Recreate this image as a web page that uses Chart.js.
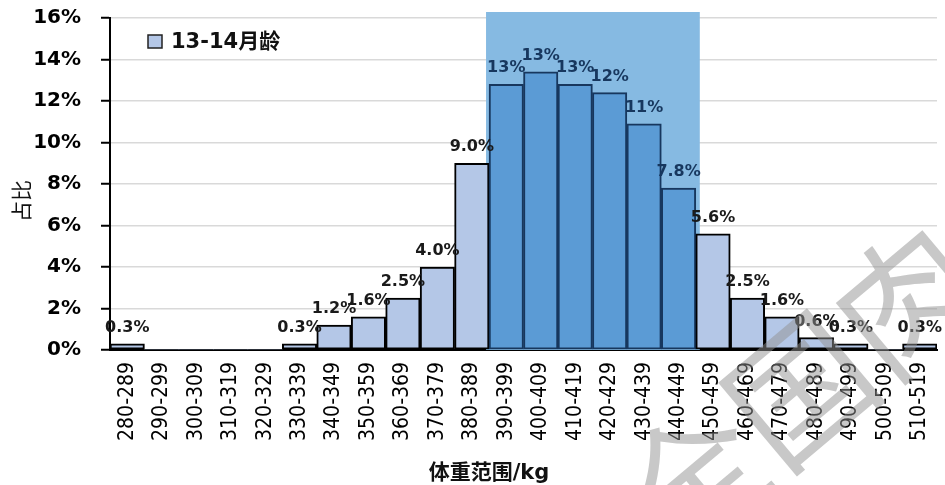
<!DOCTYPE html>
<html>
<head>
<meta charset="utf-8">
<script src="https://cdn.jsdelivr.net/npm/chart.js@4"></script>
<style>
  html, body { margin: 0; padding: 0; background: #fff; }
  #wrap { width: 945px; height: 485px; }
</style>
</head>
<body>
<div id="wrap"><canvas id="c" width="945" height="485"></canvas></div>
<script>
// Weight classes (kg) and share of animals in each class (%)
const categories = ['280-289','290-299','300-309','310-319','320-329','330-339','340-349','350-359',
  '360-369','370-379','380-389','390-399','400-409','410-419','420-429','430-439','440-449',
  '450-459','460-469','470-479','480-489','490-499','500-509','510-519'];
const shares = [0.3, 0, 0, 0, 0, 0.3, 1.2, 1.6, 2.5, 4.0, 9.0, 12.8, 13.4, 12.8, 12.4, 10.9, 7.8,
  5.6, 2.5, 1.6, 0.6, 0.3, 0, 0.3];
const seriesName = '13-14月龄';
const yTicks = [0, 2, 4, 6, 8, 10, 12, 14, 16];
// Main weight band, shaded behind the bars
const bandStart = '390-399';
const bandEnd = '440-449';
const xTitle = '体重范围/kg';
const yTitle = '占比';
const watermark = '全国肉牛';

const LIGHT = '#b4c7e7', DARK = '#5b9bd5', NAVY = '#17375e', SHADE = '#86bae2';
const bandLo = categories.indexOf(bandStart), bandHi = categories.indexOf(bandEnd);
const inBand = i => i >= bandLo && i <= bandHi;
const fmt = v => (v >= 10 ? v.toFixed(0) : v.toFixed(1)) + '%';
const LATIN = '"DejaVu Sans", "Noto Sans CJK SC", sans-serif';

const extras = {
  id: 'extras',
  beforeDatasetsDraw(chart) {
    const { ctx, scales: { x, y } } = chart;
    const half = (x.getPixelForValue(1) - x.getPixelForValue(0)) / 2;
    const l = x.getPixelForValue(bandLo) - half - 3;
    const r = x.getPixelForValue(bandHi) + half + 4;
    const t = y.getPixelForValue(yTicks[yTicks.length - 1]) - 6;
    ctx.save();
    ctx.fillStyle = SHADE;
    ctx.fillRect(l, t, r - l, y.bottom - t);
    ctx.restore();
  },
  afterDatasetsDraw(chart) {
    const { ctx } = chart;
    const meta = chart.getDatasetMeta(0);
    ctx.save();
    ctx.font = 'bold 16px ' + LATIN;
    ctx.textAlign = 'center';
    ctx.textBaseline = 'alphabetic';
    meta.data.forEach((bar, i) => {
      const v = shares[i];
      if (!v) return;
      ctx.fillStyle = inBand(i) ? NAVY : '#1a1a1a';
      ctx.fillText(fmt(v), bar.x, bar.y - 12);
    });
    ctx.restore();
  },
  afterDraw(chart) {
    const { ctx } = chart;
    ctx.save();
    // legend
    ctx.fillStyle = LIGHT;
    ctx.fillRect(148, 35, 14, 13);
    ctx.strokeStyle = '#222';
    ctx.lineWidth = 1.5;
    ctx.strokeRect(148, 35, 14, 13);
    ctx.fillStyle = '#111';
    ctx.font = 'bold 21px ' + LATIN;
    ctx.textAlign = 'left';
    ctx.textBaseline = 'alphabetic';
    ctx.fillText(seriesName, 171, 48);
    // axis titles
    ctx.font = 'bold 21px ' + LATIN;
    ctx.textAlign = 'center';
    ctx.fillText(xTitle, 489, 479);
    ctx.save();
    ctx.translate(29, 201);
    ctx.rotate(-Math.PI / 2);
    ctx.font = '21px "Noto Sans CJK SC", sans-serif';
    ctx.fillText(yTitle, 0, 0);
    ctx.restore();
    // watermark
    const wmSize = 140;
    ctx.save();
    ctx.translate(800, 390);
    ctx.rotate(-40 * Math.PI / 180);
    ctx.font = wmSize + 'px "Noto Sans CJK SC", sans-serif';
    ctx.fillStyle = 'rgba(145,145,145,0.5)';
    ctx.textBaseline = 'middle';
    ctx.textAlign = 'left';
    ctx.fillText(watermark, -1.5 * wmSize, 0);
    ctx.restore();
    ctx.restore();
  }
};

const noEdgePadding = s => { s.paddingTop = 0; s.paddingBottom = 0; s.paddingLeft = 0; s.paddingRight = 0; };

new Chart(document.getElementById('c'), {
  type: 'bar',
  data: {
    labels: categories,
    datasets: [{
      label: seriesName,
      data: shares,
      backgroundColor: c => inBand(c.dataIndex) ? DARK : LIGHT,
      borderColor: c => inBand(c.dataIndex) ? NAVY : '#000',
      borderWidth: c => shares[c.dataIndex] ? 2 : 0,
      borderSkipped: false,
      barPercentage: 1,
      categoryPercentage: 1
    }]
  },
  options: {
    responsive: false,
    animation: false,
    devicePixelRatio: 1,
    layout: { padding: { left: 0, right: 8, top: 18, bottom: 0 } },
    plugins: { legend: { display: false }, tooltip: { enabled: false } },
    scales: {
      x: {
        grid: { display: false, drawTicks: false },
        border: { display: true, color: '#000', width: 2 },
        ticks: {
          autoSkip: false, minRotation: 90, maxRotation: 90, padding: 12,
          color: '#000',
          font: { family: '"Liberation Sans Narrow", "DejaVu Sans Condensed", sans-serif', size: 21 }
        },
        afterFit: s => { s.height = 135; noEdgePadding(s); }
      },
      y: {
        min: 0, max: 16,
        afterBuildTicks: s => { s.ticks = yTicks.map(v => ({ value: v })); },
        ticks: {
          callback: v => v + '%',
          color: '#000', padding: 20,
          font: { family: LATIN, size: 20, weight: 'bold' }
        },
        grid: { color: '#d9d9d9', lineWidth: 1.5, tickColor: '#000', tickLength: 9, tickWidth: 2 },
        border: { display: true, color: '#000', width: 2 },
        afterFit: s => { s.width = 110; noEdgePadding(s); }
      }
    }
  },
  plugins: [extras]
});
</script>
</body>
</html>
